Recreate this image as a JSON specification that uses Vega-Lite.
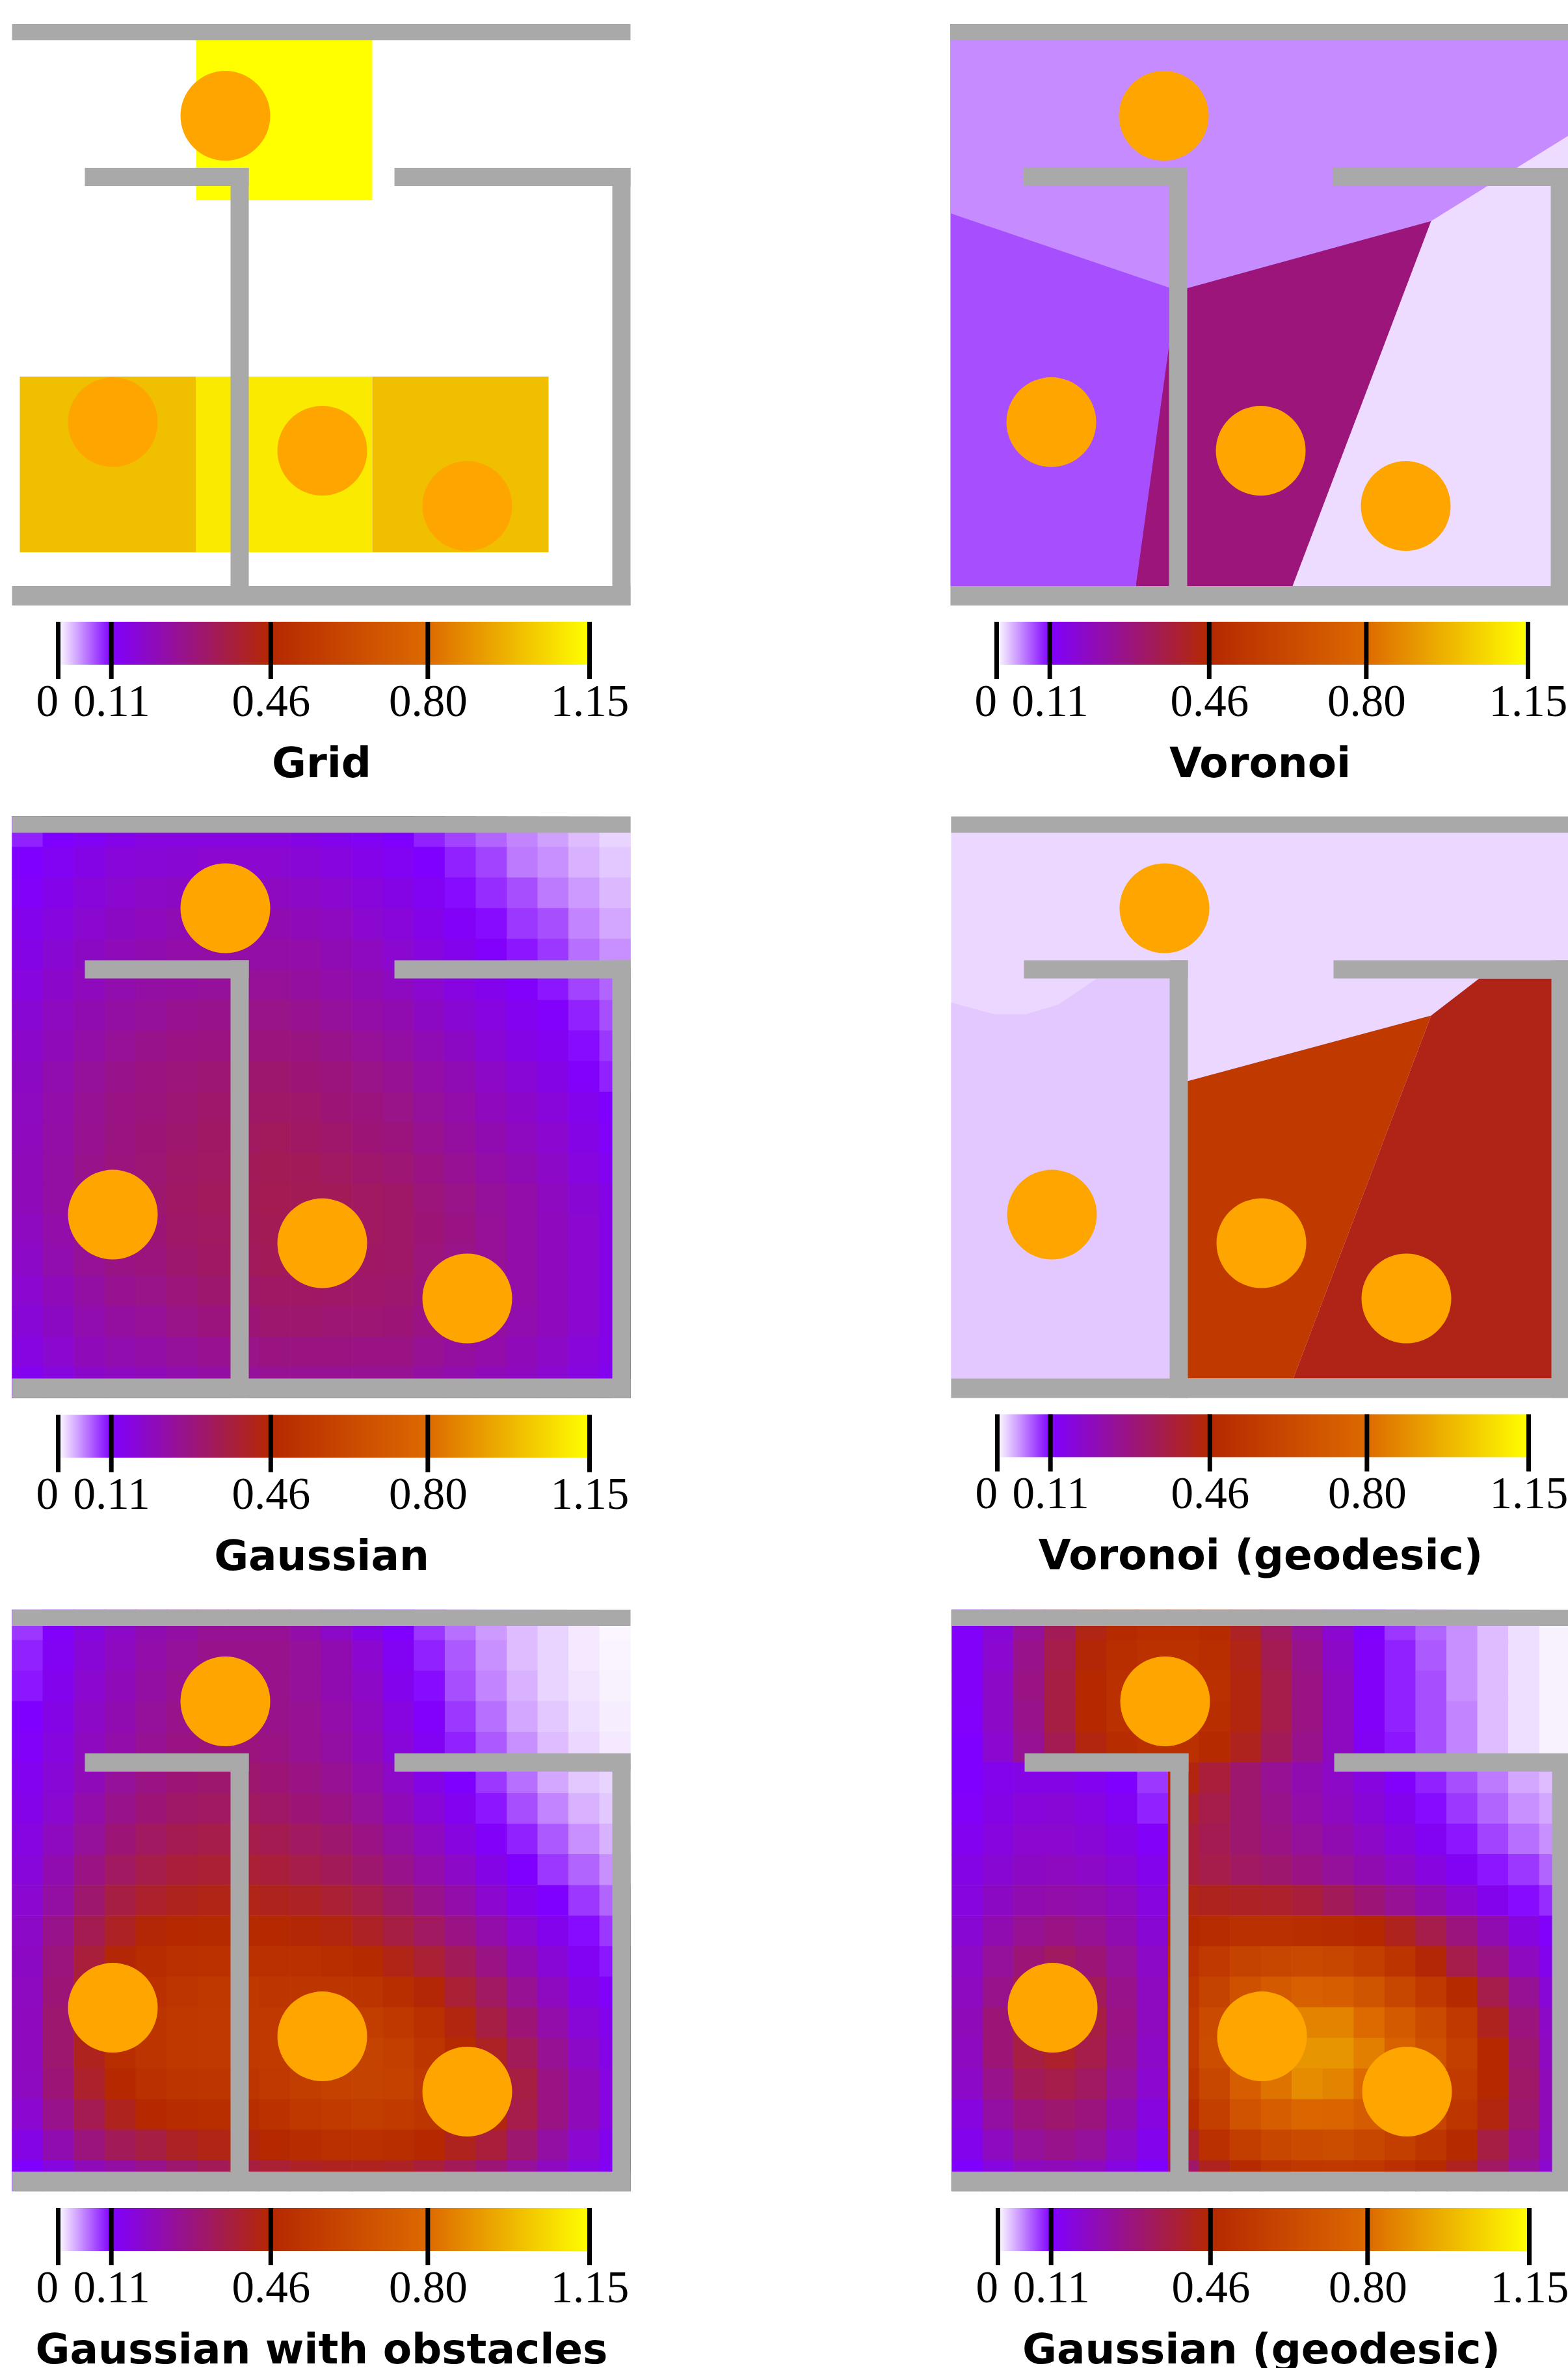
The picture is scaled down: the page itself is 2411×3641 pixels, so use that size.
{"$schema":"https://vega.github.io/schema/vega-lite/v6.json","background":"white","padding":{"left":17.5,"top":37,"right":0,"bottom":0},"config":{"view":{"stroke":null},"axis":{"grid":false,"ticks":false,"domain":false,"labelFont":"Liberation Serif","labelFontSize":69,"labelColor":"black","labelPadding":1,"labelOverlap":false,"labelFlush":false,"labelBound":false,"titleFont":"DejaVu Sans","titleFontWeight":"bold","titleFontSize":64.5,"titleColor":"black","titlePadding":29}},
"datasets":{
"walls":[{"x":-0.5,"x2":19.5,"y":-0.5,"y2":0.031},{"x":1.855,"x2":7.155,"y":4.197,"y2":4.792},{"x":6.566,"x2":7.155,"y":4.197,"y2":18.5},{"x":11.866,"x2":19.5,"y":4.197,"y2":4.792},{"x":18.911,"x2":19.5,"y":4.197,"y2":18.5},{"x":-0.5,"x2":19.5,"y":17.864,"y2":18.5}],
"people":[{"x":6.398,"y":2.497},{"x":2.76,"y":12.508},{"x":9.532,"y":13.443},{"x":14.221,"y":15.249}],
"ticks":[{"t":0},{"t":0.115},{"t":0.46},{"t":0.8},{"t":1.15}],
"bar":[{"a":0,"b":1.15,"c":0,"d":0.75}],
"grid":[{"x":5.452,"x2":11.15,"y":-0.5,"y2":5.26,"v":1.15},{"x":-0.248,"x2":5.452,"y":11.02,"y2":16.76,"v":1.0},{"x":5.452,"x2":11.15,"y":11.02,"y2":16.76,"v":1.1},{"x":11.15,"x2":16.85,"y":11.02,"y2":16.76,"v":1.0}],
"voronoi":[{"cell":"r","x":-0.5,"y":-0.5,"y2":18.5,"v":0.016},{"cell":"r","x":19.5,"y":-0.5,"y2":18.5,"v":0.016},{"cell":"m","x":5.494,"y":-0.5,"y2":17.864,"v":0.295},{"cell":"m","x":10.562,"y":-0.5,"y2":17.864,"v":0.295},{"cell":"m","x":15.041,"y":-0.5,"y2":5.94,"v":0.295},{"cell":"l","x":-0.5,"y":-0.5,"y2":17.864,"v":0.08},{"cell":"l","x":5.494,"y":-0.5,"y2":17.864,"v":0.08},{"cell":"l","x":6.566,"y":-0.5,"y2":10.021,"v":0.08},{"cell":"t","x":-0.5,"y":-0.5,"y2":5.685,"v":0.052},{"cell":"t","x":6.861,"y":-0.5,"y2":8.214,"v":0.052},{"cell":"t","x":15.041,"y":-0.5,"y2":5.94,"v":0.052},{"cell":"t","x":19.5,"y":-0.5,"y2":3.134,"v":0.052}],
"geodesic":[{"cell":"t","x":-0.5,"y":-0.5,"y2":18.5,"v":0.018},{"cell":"t","x":19.5,"y":-0.5,"y2":18.5,"v":0.018},{"cell":"r","x":10.562,"y":17.864,"y2":17.864,"v":0.4275},{"cell":"r","x":15.021,"y":6.004,"y2":17.864,"v":0.4275},{"cell":"r","x":16.577,"y":4.792,"y2":17.864,"v":0.4275},{"cell":"r","x":19.5,"y":4.792,"y2":17.864,"v":0.4275},{"cell":"m","x":7.134,"y":8.15,"y2":17.864,"v":0.553},{"cell":"m","x":10.562,"y":7.215,"y2":17.864,"v":0.553},{"cell":"m","x":15.021,"y":6.004,"y2":6.004,"v":0.553},{"cell":"l","x":-0.5,"y":5.579,"y2":17.864,"v":0.025},{"cell":"l","x":0.888,"y":5.961,"y2":17.864,"v":0.025},{"cell":"l","x":1.918,"y":5.961,"y2":17.864,"v":0.025},{"cell":"l","x":2.97,"y":5.642,"y2":17.864,"v":0.025},{"cell":"l","x":4.211,"y":4.792,"y2":17.864,"v":0.025},{"cell":"l","x":6.566,"y":4.792,"y2":17.864,"v":0.025}],
"g2":[
{"x":0,"y":0,"v":0.1},{"x":1,"y":0,"v":0.115},{"x":2,"y":0,"v":0.13},{"x":3,"y":0,"v":0.145},{"x":4,"y":0,"v":0.155},{"x":5,"y":0,"v":0.16},{"x":6,"y":0,"v":0.16},{"x":7,"y":0,"v":0.16},{"x":8,"y":0,"v":0.16},{"x":9,"y":0,"v":0.15},{"x":10,"y":0,"v":0.14},{"x":11,"y":0,"v":0.13},{"x":12,"y":0,"v":0.115},{"x":13,"y":0,"v":0.1},{"x":14,"y":0,"v":0.085},{"x":15,"y":0,"v":0.07},{"x":16,"y":0,"v":0.055},{"x":17,"y":0,"v":0.043},{"x":18,"y":0,"v":0.03},{"x":19,"y":0,"v":0.02},
{"x":0,"y":1,"v":0.115},{"x":1,"y":1,"v":0.13},{"x":2,"y":1,"v":0.15},{"x":3,"y":1,"v":0.165},{"x":4,"y":1,"v":0.17},{"x":5,"y":1,"v":0.175},{"x":6,"y":1,"v":0.18},{"x":7,"y":1,"v":0.18},{"x":8,"y":1,"v":0.18},{"x":9,"y":1,"v":0.17},{"x":10,"y":1,"v":0.16},{"x":11,"y":1,"v":0.145},{"x":12,"y":1,"v":0.13},{"x":13,"y":1,"v":0.115},{"x":14,"y":1,"v":0.1},{"x":15,"y":1,"v":0.085},{"x":16,"y":1,"v":0.06},{"x":17,"y":1,"v":0.05},{"x":18,"y":1,"v":0.035},{"x":19,"y":1,"v":0.025},
{"x":0,"y":2,"v":0.125},{"x":1,"y":2,"v":0.145},{"x":2,"y":2,"v":0.165},{"x":3,"y":2,"v":0.18},{"x":4,"y":2,"v":0.19},{"x":5,"y":2,"v":0.195},{"x":6,"y":2,"v":0.2},{"x":7,"y":2,"v":0.2},{"x":8,"y":2,"v":0.2},{"x":9,"y":2,"v":0.19},{"x":10,"y":2,"v":0.18},{"x":11,"y":2,"v":0.165},{"x":12,"y":2,"v":0.15},{"x":13,"y":2,"v":0.13},{"x":14,"y":2,"v":0.11},{"x":15,"y":2,"v":0.095},{"x":16,"y":2,"v":0.08},{"x":17,"y":2,"v":0.06},{"x":18,"y":2,"v":0.045},{"x":19,"y":2,"v":0.032},
{"x":0,"y":3,"v":0.14},{"x":1,"y":3,"v":0.16},{"x":2,"y":3,"v":0.18},{"x":3,"y":3,"v":0.195},{"x":4,"y":3,"v":0.205},{"x":5,"y":3,"v":0.215},{"x":6,"y":3,"v":0.22},{"x":7,"y":3,"v":0.22},{"x":8,"y":3,"v":0.22},{"x":9,"y":3,"v":0.21},{"x":10,"y":3,"v":0.2},{"x":11,"y":3,"v":0.18},{"x":12,"y":3,"v":0.165},{"x":13,"y":3,"v":0.145},{"x":14,"y":3,"v":0.125},{"x":15,"y":3,"v":0.11},{"x":16,"y":3,"v":0.09},{"x":17,"y":3,"v":0.08},{"x":18,"y":3,"v":0.055},{"x":19,"y":3,"v":0.04},
{"x":0,"y":4,"v":0.15},{"x":1,"y":4,"v":0.175},{"x":2,"y":4,"v":0.195},{"x":3,"y":4,"v":0.21},{"x":4,"y":4,"v":0.22},{"x":5,"y":4,"v":0.23},{"x":6,"y":4,"v":0.235},{"x":7,"y":4,"v":0.235},{"x":8,"y":4,"v":0.235},{"x":9,"y":4,"v":0.23},{"x":10,"y":4,"v":0.215},{"x":11,"y":4,"v":0.2},{"x":12,"y":4,"v":0.18},{"x":13,"y":4,"v":0.16},{"x":14,"y":4,"v":0.14},{"x":15,"y":4,"v":0.12},{"x":16,"y":4,"v":0.105},{"x":17,"y":4,"v":0.09},{"x":18,"y":4,"v":0.065},{"x":19,"y":4,"v":0.05},
{"x":0,"y":5,"v":0.16},{"x":1,"y":5,"v":0.185},{"x":2,"y":5,"v":0.205},{"x":3,"y":5,"v":0.225},{"x":4,"y":5,"v":0.24},{"x":5,"y":5,"v":0.245},{"x":6,"y":5,"v":0.25},{"x":7,"y":5,"v":0.255},{"x":8,"y":5,"v":0.255},{"x":9,"y":5,"v":0.245},{"x":10,"y":5,"v":0.23},{"x":11,"y":5,"v":0.215},{"x":12,"y":5,"v":0.2},{"x":13,"y":5,"v":0.18},{"x":14,"y":5,"v":0.155},{"x":15,"y":5,"v":0.14},{"x":16,"y":5,"v":0.12},{"x":17,"y":5,"v":0.105},{"x":18,"y":5,"v":0.085},{"x":19,"y":5,"v":0.07},
{"x":0,"y":6,"v":0.175},{"x":1,"y":6,"v":0.2},{"x":2,"y":6,"v":0.22},{"x":3,"y":6,"v":0.24},{"x":4,"y":6,"v":0.25},{"x":5,"y":6,"v":0.265},{"x":6,"y":6,"v":0.27},{"x":7,"y":6,"v":0.275},{"x":8,"y":6,"v":0.275},{"x":9,"y":6,"v":0.265},{"x":10,"y":6,"v":0.25},{"x":11,"y":6,"v":0.235},{"x":12,"y":6,"v":0.22},{"x":13,"y":6,"v":0.195},{"x":14,"y":6,"v":0.175},{"x":15,"y":6,"v":0.155},{"x":16,"y":6,"v":0.135},{"x":17,"y":6,"v":0.12},{"x":18,"y":6,"v":0.1},{"x":19,"y":6,"v":0.08},
{"x":0,"y":7,"v":0.185},{"x":1,"y":7,"v":0.21},{"x":2,"y":7,"v":0.235},{"x":3,"y":7,"v":0.255},{"x":4,"y":7,"v":0.27},{"x":5,"y":7,"v":0.28},{"x":6,"y":7,"v":0.285},{"x":7,"y":7,"v":0.29},{"x":8,"y":7,"v":0.29},{"x":9,"y":7,"v":0.285},{"x":10,"y":7,"v":0.27},{"x":11,"y":7,"v":0.255},{"x":12,"y":7,"v":0.24},{"x":13,"y":7,"v":0.215},{"x":14,"y":7,"v":0.195},{"x":15,"y":7,"v":0.17},{"x":16,"y":7,"v":0.15},{"x":17,"y":7,"v":0.135},{"x":18,"y":7,"v":0.11},{"x":19,"y":7,"v":0.09},
{"x":0,"y":8,"v":0.195},{"x":1,"y":8,"v":0.225},{"x":2,"y":8,"v":0.25},{"x":3,"y":8,"v":0.27},{"x":4,"y":8,"v":0.285},{"x":5,"y":8,"v":0.295},{"x":6,"y":8,"v":0.305},{"x":7,"y":8,"v":0.31},{"x":8,"y":8,"v":0.31},{"x":9,"y":8,"v":0.3},{"x":10,"y":8,"v":0.29},{"x":11,"y":8,"v":0.275},{"x":12,"y":8,"v":0.26},{"x":13,"y":8,"v":0.235},{"x":14,"y":8,"v":0.215},{"x":15,"y":8,"v":0.19},{"x":16,"y":8,"v":0.17},{"x":17,"y":8,"v":0.15},{"x":18,"y":8,"v":0.12},{"x":19,"y":8,"v":0.1},
{"x":0,"y":9,"v":0.2},{"x":1,"y":9,"v":0.23},{"x":2,"y":9,"v":0.26},{"x":3,"y":9,"v":0.28},{"x":4,"y":9,"v":0.29},{"x":5,"y":9,"v":0.305},{"x":6,"y":9,"v":0.315},{"x":7,"y":9,"v":0.32},{"x":8,"y":9,"v":0.32},{"x":9,"y":9,"v":0.315},{"x":10,"y":9,"v":0.3},{"x":11,"y":9,"v":0.29},{"x":12,"y":9,"v":0.275},{"x":13,"y":9,"v":0.25},{"x":14,"y":9,"v":0.23},{"x":15,"y":9,"v":0.205},{"x":16,"y":9,"v":0.185},{"x":17,"y":9,"v":0.165},{"x":18,"y":9,"v":0.14},{"x":19,"y":9,"v":0.115},
{"x":0,"y":10,"v":0.205},{"x":1,"y":10,"v":0.235},{"x":2,"y":10,"v":0.265},{"x":3,"y":10,"v":0.285},{"x":4,"y":10,"v":0.3},{"x":5,"y":10,"v":0.31},{"x":6,"y":10,"v":0.325},{"x":7,"y":10,"v":0.33},{"x":8,"y":10,"v":0.335},{"x":9,"y":10,"v":0.325},{"x":10,"y":10,"v":0.315},{"x":11,"y":10,"v":0.3},{"x":12,"y":10,"v":0.29},{"x":13,"y":10,"v":0.265},{"x":14,"y":10,"v":0.245},{"x":15,"y":10,"v":0.22},{"x":16,"y":10,"v":0.2},{"x":17,"y":10,"v":0.18},{"x":18,"y":10,"v":0.15},{"x":19,"y":10,"v":0.125},
{"x":0,"y":11,"v":0.21},{"x":1,"y":11,"v":0.24},{"x":2,"y":11,"v":0.27},{"x":3,"y":11,"v":0.29},{"x":4,"y":11,"v":0.305},{"x":5,"y":11,"v":0.32},{"x":6,"y":11,"v":0.33},{"x":7,"y":11,"v":0.34},{"x":8,"y":11,"v":0.345},{"x":9,"y":11,"v":0.34},{"x":10,"y":11,"v":0.33},{"x":11,"y":11,"v":0.315},{"x":12,"y":11,"v":0.305},{"x":13,"y":11,"v":0.28},{"x":14,"y":11,"v":0.26},{"x":15,"y":11,"v":0.235},{"x":16,"y":11,"v":0.215},{"x":17,"y":11,"v":0.19},{"x":18,"y":11,"v":0.16},{"x":19,"y":11,"v":0.135},
{"x":0,"y":12,"v":0.21},{"x":1,"y":12,"v":0.24},{"x":2,"y":12,"v":0.27},{"x":3,"y":12,"v":0.295},{"x":4,"y":12,"v":0.31},{"x":5,"y":12,"v":0.325},{"x":6,"y":12,"v":0.335},{"x":7,"y":12,"v":0.345},{"x":8,"y":12,"v":0.35},{"x":9,"y":12,"v":0.345},{"x":10,"y":12,"v":0.34},{"x":11,"y":12,"v":0.33},{"x":12,"y":12,"v":0.32},{"x":13,"y":12,"v":0.295},{"x":14,"y":12,"v":0.275},{"x":15,"y":12,"v":0.25},{"x":16,"y":12,"v":0.23},{"x":17,"y":12,"v":0.2},{"x":18,"y":12,"v":0.175},{"x":19,"y":12,"v":0.15},
{"x":0,"y":13,"v":0.2},{"x":1,"y":13,"v":0.23},{"x":2,"y":13,"v":0.265},{"x":3,"y":13,"v":0.29},{"x":4,"y":13,"v":0.3},{"x":5,"y":13,"v":0.32},{"x":6,"y":13,"v":0.33},{"x":7,"y":13,"v":0.34},{"x":8,"y":13,"v":0.345},{"x":9,"y":13,"v":0.345},{"x":10,"y":13,"v":0.335},{"x":11,"y":13,"v":0.33},{"x":12,"y":13,"v":0.32},{"x":13,"y":13,"v":0.3},{"x":14,"y":13,"v":0.28},{"x":15,"y":13,"v":0.255},{"x":16,"y":13,"v":0.23},{"x":17,"y":13,"v":0.205},{"x":18,"y":13,"v":0.18},{"x":19,"y":13,"v":0.15},
{"x":0,"y":14,"v":0.19},{"x":1,"y":14,"v":0.225},{"x":2,"y":14,"v":0.255},{"x":3,"y":14,"v":0.28},{"x":4,"y":14,"v":0.29},{"x":5,"y":14,"v":0.31},{"x":6,"y":14,"v":0.325},{"x":7,"y":14,"v":0.335},{"x":8,"y":14,"v":0.34},{"x":9,"y":14,"v":0.34},{"x":10,"y":14,"v":0.33},{"x":11,"y":14,"v":0.325},{"x":12,"y":14,"v":0.32},{"x":13,"y":14,"v":0.295},{"x":14,"y":14,"v":0.275},{"x":15,"y":14,"v":0.255},{"x":16,"y":14,"v":0.23},{"x":17,"y":14,"v":0.205},{"x":18,"y":14,"v":0.18},{"x":19,"y":14,"v":0.15},
{"x":0,"y":15,"v":0.18},{"x":1,"y":15,"v":0.21},{"x":2,"y":15,"v":0.24},{"x":3,"y":15,"v":0.265},{"x":4,"y":15,"v":0.275},{"x":5,"y":15,"v":0.295},{"x":6,"y":15,"v":0.31},{"x":7,"y":15,"v":0.32},{"x":8,"y":15,"v":0.325},{"x":9,"y":15,"v":0.325},{"x":10,"y":15,"v":0.32},{"x":11,"y":15,"v":0.315},{"x":12,"y":15,"v":0.31},{"x":13,"y":15,"v":0.29},{"x":14,"y":15,"v":0.27},{"x":15,"y":15,"v":0.25},{"x":16,"y":15,"v":0.23},{"x":17,"y":15,"v":0.205},{"x":18,"y":15,"v":0.18},{"x":19,"y":15,"v":0.15},
{"x":0,"y":16,"v":0.17},{"x":1,"y":16,"v":0.195},{"x":2,"y":16,"v":0.225},{"x":3,"y":16,"v":0.245},{"x":4,"y":16,"v":0.255},{"x":5,"y":16,"v":0.275},{"x":6,"y":16,"v":0.29},{"x":7,"y":16,"v":0.3},{"x":8,"y":16,"v":0.31},{"x":9,"y":16,"v":0.31},{"x":10,"y":16,"v":0.305},{"x":11,"y":16,"v":0.305},{"x":12,"y":16,"v":0.3},{"x":13,"y":16,"v":0.28},{"x":14,"y":16,"v":0.26},{"x":15,"y":16,"v":0.245},{"x":16,"y":16,"v":0.225},{"x":17,"y":16,"v":0.205},{"x":18,"y":16,"v":0.18},{"x":19,"y":16,"v":0.15},
{"x":0,"y":17,"v":0.155},{"x":1,"y":17,"v":0.18},{"x":2,"y":17,"v":0.21},{"x":3,"y":17,"v":0.225},{"x":4,"y":17,"v":0.235},{"x":5,"y":17,"v":0.25},{"x":6,"y":17,"v":0.265},{"x":7,"y":17,"v":0.275},{"x":8,"y":17,"v":0.285},{"x":9,"y":17,"v":0.285},{"x":10,"y":17,"v":0.285},{"x":11,"y":17,"v":0.28},{"x":12,"y":17,"v":0.28},{"x":13,"y":17,"v":0.26},{"x":14,"y":17,"v":0.245},{"x":15,"y":17,"v":0.23},{"x":16,"y":17,"v":0.21},{"x":17,"y":17,"v":0.19},{"x":18,"y":17,"v":0.165},{"x":19,"y":17,"v":0.145},
{"x":0,"y":18,"v":0.135},{"x":1,"y":18,"v":0.16},{"x":2,"y":18,"v":0.185},{"x":3,"y":18,"v":0.2},{"x":4,"y":18,"v":0.21},{"x":5,"y":18,"v":0.225},{"x":6,"y":18,"v":0.24},{"x":7,"y":18,"v":0.25},{"x":8,"y":18,"v":0.26},{"x":9,"y":18,"v":0.26},{"x":10,"y":18,"v":0.26},{"x":11,"y":18,"v":0.26},{"x":12,"y":18,"v":0.26},{"x":13,"y":18,"v":0.24},{"x":14,"y":18,"v":0.225},{"x":15,"y":18,"v":0.21},{"x":16,"y":18,"v":0.2},{"x":17,"y":18,"v":0.18},{"x":18,"y":18,"v":0.155},{"x":19,"y":18,"v":0.135}],
"g3":[
{"x":0,"y":0,"v":0.09},{"x":1,"y":0,"v":0.12},{"x":2,"y":0,"v":0.16},{"x":3,"y":0,"v":0.19},{"x":4,"y":0,"v":0.22},{"x":5,"y":0,"v":0.24},{"x":6,"y":0,"v":0.26},{"x":7,"y":0,"v":0.26},{"x":8,"y":0,"v":0.26},{"x":9,"y":0,"v":0.23},{"x":10,"y":0,"v":0.19},{"x":11,"y":0,"v":0.15},{"x":12,"y":0,"v":0.115},{"x":13,"y":0,"v":0.09},{"x":14,"y":0,"v":0.065},{"x":15,"y":0,"v":0.045},{"x":16,"y":0,"v":0.03},{"x":17,"y":0,"v":0.02},{"x":18,"y":0,"v":0.01},{"x":19,"y":0,"v":0.004},
{"x":0,"y":1,"v":0.1},{"x":1,"y":1,"v":0.13},{"x":2,"y":1,"v":0.17},{"x":3,"y":1,"v":0.2},{"x":4,"y":1,"v":0.23},{"x":5,"y":1,"v":0.25},{"x":6,"y":1,"v":0.27},{"x":7,"y":1,"v":0.27},{"x":8,"y":1,"v":0.27},{"x":9,"y":1,"v":0.25},{"x":10,"y":1,"v":0.22},{"x":11,"y":1,"v":0.18},{"x":12,"y":1,"v":0.13},{"x":13,"y":1,"v":0.1},{"x":14,"y":1,"v":0.075},{"x":15,"y":1,"v":0.05},{"x":16,"y":1,"v":0.03},{"x":17,"y":1,"v":0.02},{"x":18,"y":1,"v":0.01},{"x":19,"y":1,"v":0.005},
{"x":0,"y":2,"v":0.105},{"x":1,"y":2,"v":0.14},{"x":2,"y":2,"v":0.18},{"x":3,"y":2,"v":0.21},{"x":4,"y":2,"v":0.24},{"x":5,"y":2,"v":0.26},{"x":6,"y":2,"v":0.27},{"x":7,"y":2,"v":0.28},{"x":8,"y":2,"v":0.27},{"x":9,"y":2,"v":0.25},{"x":10,"y":2,"v":0.22},{"x":11,"y":2,"v":0.19},{"x":12,"y":2,"v":0.14},{"x":13,"y":2,"v":0.11},{"x":14,"y":2,"v":0.08},{"x":15,"y":2,"v":0.055},{"x":16,"y":2,"v":0.035},{"x":17,"y":2,"v":0.02},{"x":18,"y":2,"v":0.012},{"x":19,"y":2,"v":0.006},
{"x":0,"y":3,"v":0.115},{"x":1,"y":3,"v":0.15},{"x":2,"y":3,"v":0.19},{"x":3,"y":3,"v":0.22},{"x":4,"y":3,"v":0.25},{"x":5,"y":3,"v":0.27},{"x":6,"y":3,"v":0.28},{"x":7,"y":3,"v":0.28},{"x":8,"y":3,"v":0.27},{"x":9,"y":3,"v":0.26},{"x":10,"y":3,"v":0.23},{"x":11,"y":3,"v":0.2},{"x":12,"y":3,"v":0.155},{"x":13,"y":3,"v":0.12},{"x":14,"y":3,"v":0.09},{"x":15,"y":3,"v":0.065},{"x":16,"y":3,"v":0.04},{"x":17,"y":3,"v":0.025},{"x":18,"y":3,"v":0.015},{"x":19,"y":3,"v":0.008},
{"x":0,"y":4,"v":0.125},{"x":1,"y":4,"v":0.16},{"x":2,"y":4,"v":0.2},{"x":3,"y":4,"v":0.23},{"x":4,"y":4,"v":0.26},{"x":5,"y":4,"v":0.28},{"x":6,"y":4,"v":0.29},{"x":7,"y":4,"v":0.29},{"x":8,"y":4,"v":0.28},{"x":9,"y":4,"v":0.26},{"x":10,"y":4,"v":0.24},{"x":11,"y":4,"v":0.21},{"x":12,"y":4,"v":0.165},{"x":13,"y":4,"v":0.13},{"x":14,"y":4,"v":0.1},{"x":15,"y":4,"v":0.075},{"x":16,"y":4,"v":0.05},{"x":17,"y":4,"v":0.03},{"x":18,"y":4,"v":0.018},{"x":19,"y":4,"v":0.01},
{"x":0,"y":5,"v":0.135},{"x":1,"y":5,"v":0.17},{"x":2,"y":5,"v":0.21},{"x":3,"y":5,"v":0.25},{"x":4,"y":5,"v":0.28},{"x":5,"y":5,"v":0.3},{"x":6,"y":5,"v":0.31},{"x":7,"y":5,"v":0.31},{"x":8,"y":5,"v":0.3},{"x":9,"y":5,"v":0.28},{"x":10,"y":5,"v":0.26},{"x":11,"y":5,"v":0.23},{"x":12,"y":5,"v":0.19},{"x":13,"y":5,"v":0.15},{"x":14,"y":5,"v":0.115},{"x":15,"y":5,"v":0.09},{"x":16,"y":5,"v":0.065},{"x":17,"y":5,"v":0.04},{"x":18,"y":5,"v":0.025},{"x":19,"y":5,"v":0.02},
{"x":0,"y":6,"v":0.145},{"x":1,"y":6,"v":0.18},{"x":2,"y":6,"v":0.23},{"x":3,"y":6,"v":0.27},{"x":4,"y":6,"v":0.3},{"x":5,"y":6,"v":0.32},{"x":6,"y":6,"v":0.33},{"x":7,"y":6,"v":0.33},{"x":8,"y":6,"v":0.32},{"x":9,"y":6,"v":0.3},{"x":10,"y":6,"v":0.28},{"x":11,"y":6,"v":0.25},{"x":12,"y":6,"v":0.21},{"x":13,"y":6,"v":0.17},{"x":14,"y":6,"v":0.135},{"x":15,"y":6,"v":0.105},{"x":16,"y":6,"v":0.08},{"x":17,"y":6,"v":0.055},{"x":18,"y":6,"v":0.035},{"x":19,"y":6,"v":0.025},
{"x":0,"y":7,"v":0.155},{"x":1,"y":7,"v":0.2},{"x":2,"y":7,"v":0.25},{"x":3,"y":7,"v":0.3},{"x":4,"y":7,"v":0.33},{"x":5,"y":7,"v":0.35},{"x":6,"y":7,"v":0.36},{"x":7,"y":7,"v":0.36},{"x":8,"y":7,"v":0.35},{"x":9,"y":7,"v":0.33},{"x":10,"y":7,"v":0.31},{"x":11,"y":7,"v":0.28},{"x":12,"y":7,"v":0.24},{"x":13,"y":7,"v":0.2},{"x":14,"y":7,"v":0.16},{"x":15,"y":7,"v":0.125},{"x":16,"y":7,"v":0.1},{"x":17,"y":7,"v":0.075},{"x":18,"y":7,"v":0.05},{"x":19,"y":7,"v":0.035},
{"x":0,"y":8,"v":0.165},{"x":1,"y":8,"v":0.22},{"x":2,"y":8,"v":0.28},{"x":3,"y":8,"v":0.33},{"x":4,"y":8,"v":0.36},{"x":5,"y":8,"v":0.38},{"x":6,"y":8,"v":0.39},{"x":7,"y":8,"v":0.39},{"x":8,"y":8,"v":0.38},{"x":9,"y":8,"v":0.36},{"x":10,"y":8,"v":0.34},{"x":11,"y":8,"v":0.31},{"x":12,"y":8,"v":0.27},{"x":13,"y":8,"v":0.23},{"x":14,"y":8,"v":0.19},{"x":15,"y":8,"v":0.15},{"x":16,"y":8,"v":0.115},{"x":17,"y":8,"v":0.09},{"x":18,"y":8,"v":0.07},{"x":19,"y":8,"v":0.05},
{"x":0,"y":9,"v":0.18},{"x":1,"y":9,"v":0.24},{"x":2,"y":9,"v":0.31},{"x":3,"y":9,"v":0.37},{"x":4,"y":9,"v":0.4},{"x":5,"y":9,"v":0.42},{"x":6,"y":9,"v":0.43},{"x":7,"y":9,"v":0.43},{"x":8,"y":9,"v":0.42},{"x":9,"y":9,"v":0.41},{"x":10,"y":9,"v":0.39},{"x":11,"y":9,"v":0.36},{"x":12,"y":9,"v":0.32},{"x":13,"y":9,"v":0.27},{"x":14,"y":9,"v":0.23},{"x":15,"y":9,"v":0.18},{"x":16,"y":9,"v":0.14},{"x":17,"y":9,"v":0.115},{"x":18,"y":9,"v":0.09},{"x":19,"y":9,"v":0.07},
{"x":0,"y":10,"v":0.19},{"x":1,"y":10,"v":0.27},{"x":2,"y":10,"v":0.35},{"x":3,"y":10,"v":0.41},{"x":4,"y":10,"v":0.45},{"x":5,"y":10,"v":0.46},{"x":6,"y":10,"v":0.47},{"x":7,"y":10,"v":0.47},{"x":8,"y":10,"v":0.46},{"x":9,"y":10,"v":0.45},{"x":10,"y":10,"v":0.44},{"x":11,"y":10,"v":0.41},{"x":12,"y":10,"v":0.37},{"x":13,"y":10,"v":0.33},{"x":14,"y":10,"v":0.28},{"x":15,"y":10,"v":0.23},{"x":16,"y":10,"v":0.18},{"x":17,"y":10,"v":0.14},{"x":18,"y":10,"v":0.11},{"x":19,"y":10,"v":0.09},
{"x":0,"y":11,"v":0.195},{"x":1,"y":11,"v":0.29},{"x":2,"y":11,"v":0.38},{"x":3,"y":11,"v":0.45},{"x":4,"y":11,"v":0.48},{"x":5,"y":11,"v":0.5},{"x":6,"y":11,"v":0.51},{"x":7,"y":11,"v":0.51},{"x":8,"y":11,"v":0.5},{"x":9,"y":11,"v":0.5},{"x":10,"y":11,"v":0.49},{"x":11,"y":11,"v":0.47},{"x":12,"y":11,"v":0.43},{"x":13,"y":11,"v":0.39},{"x":14,"y":11,"v":0.34},{"x":15,"y":11,"v":0.28},{"x":16,"y":11,"v":0.22},{"x":17,"y":11,"v":0.17},{"x":18,"y":11,"v":0.13},{"x":19,"y":11,"v":0.105},
{"x":0,"y":12,"v":0.2},{"x":1,"y":12,"v":0.3},{"x":2,"y":12,"v":0.4},{"x":3,"y":12,"v":0.47},{"x":4,"y":12,"v":0.5},{"x":5,"y":12,"v":0.53},{"x":6,"y":12,"v":0.54},{"x":7,"y":12,"v":0.54},{"x":8,"y":12,"v":0.53},{"x":9,"y":12,"v":0.53},{"x":10,"y":12,"v":0.53},{"x":11,"y":12,"v":0.52},{"x":12,"y":12,"v":0.49},{"x":13,"y":12,"v":0.45},{"x":14,"y":12,"v":0.39},{"x":15,"y":12,"v":0.33},{"x":16,"y":12,"v":0.26},{"x":17,"y":12,"v":0.2},{"x":18,"y":12,"v":0.15},{"x":19,"y":12,"v":0.125},
{"x":0,"y":13,"v":0.205},{"x":1,"y":13,"v":0.31},{"x":2,"y":13,"v":0.42},{"x":3,"y":13,"v":0.49},{"x":4,"y":13,"v":0.52},{"x":5,"y":13,"v":0.54},{"x":6,"y":13,"v":0.55},{"x":7,"y":13,"v":0.55},{"x":8,"y":13,"v":0.55},{"x":9,"y":13,"v":0.56},{"x":10,"y":13,"v":0.57},{"x":11,"y":13,"v":0.57},{"x":12,"y":13,"v":0.54},{"x":13,"y":13,"v":0.5},{"x":14,"y":13,"v":0.44},{"x":15,"y":13,"v":0.37},{"x":16,"y":13,"v":0.3},{"x":17,"y":13,"v":0.23},{"x":18,"y":13,"v":0.17},{"x":19,"y":13,"v":0.14},
{"x":0,"y":14,"v":0.205},{"x":1,"y":14,"v":0.31},{"x":2,"y":14,"v":0.42},{"x":3,"y":14,"v":0.49},{"x":4,"y":14,"v":0.52},{"x":5,"y":14,"v":0.54},{"x":6,"y":14,"v":0.55},{"x":7,"y":14,"v":0.55},{"x":8,"y":14,"v":0.56},{"x":9,"y":14,"v":0.58},{"x":10,"y":14,"v":0.59},{"x":11,"y":14,"v":0.6},{"x":12,"y":14,"v":0.58},{"x":13,"y":14,"v":0.53},{"x":14,"y":14,"v":0.47},{"x":15,"y":14,"v":0.41},{"x":16,"y":14,"v":0.34},{"x":17,"y":14,"v":0.26},{"x":18,"y":14,"v":0.19},{"x":19,"y":14,"v":0.15},
{"x":0,"y":15,"v":0.2},{"x":1,"y":15,"v":0.3},{"x":2,"y":15,"v":0.4},{"x":3,"y":15,"v":0.46},{"x":4,"y":15,"v":0.5},{"x":5,"y":15,"v":0.52},{"x":6,"y":15,"v":0.53},{"x":7,"y":15,"v":0.53},{"x":8,"y":15,"v":0.55},{"x":9,"y":15,"v":0.57},{"x":10,"y":15,"v":0.59},{"x":11,"y":15,"v":0.6},{"x":12,"y":15,"v":0.59},{"x":13,"y":15,"v":0.55},{"x":14,"y":15,"v":0.5},{"x":15,"y":15,"v":0.45},{"x":16,"y":15,"v":0.37},{"x":17,"y":15,"v":0.28},{"x":18,"y":15,"v":0.21},{"x":19,"y":15,"v":0.155},
{"x":0,"y":16,"v":0.18},{"x":1,"y":16,"v":0.27},{"x":2,"y":16,"v":0.35},{"x":3,"y":16,"v":0.42},{"x":4,"y":16,"v":0.46},{"x":5,"y":16,"v":0.48},{"x":6,"y":16,"v":0.49},{"x":7,"y":16,"v":0.49},{"x":8,"y":16,"v":0.51},{"x":9,"y":16,"v":0.54},{"x":10,"y":16,"v":0.56},{"x":11,"y":16,"v":0.57},{"x":12,"y":16,"v":0.56},{"x":13,"y":16,"v":0.53},{"x":14,"y":16,"v":0.49},{"x":15,"y":16,"v":0.44},{"x":16,"y":16,"v":0.36},{"x":17,"y":16,"v":0.28},{"x":18,"y":16,"v":0.21},{"x":19,"y":16,"v":0.155},
{"x":0,"y":17,"v":0.15},{"x":1,"y":17,"v":0.22},{"x":2,"y":17,"v":0.29},{"x":3,"y":17,"v":0.34},{"x":4,"y":17,"v":0.37},{"x":5,"y":17,"v":0.41},{"x":6,"y":17,"v":0.43},{"x":7,"y":17,"v":0.44},{"x":8,"y":17,"v":0.46},{"x":9,"y":17,"v":0.48},{"x":10,"y":17,"v":0.5},{"x":11,"y":17,"v":0.5},{"x":12,"y":17,"v":0.49},{"x":13,"y":17,"v":0.46},{"x":14,"y":17,"v":0.42},{"x":15,"y":17,"v":0.38},{"x":16,"y":17,"v":0.31},{"x":17,"y":17,"v":0.24},{"x":18,"y":17,"v":0.18},{"x":19,"y":17,"v":0.14},
{"x":0,"y":18,"v":0.115},{"x":1,"y":18,"v":0.16},{"x":2,"y":18,"v":0.21},{"x":3,"y":18,"v":0.24},{"x":4,"y":18,"v":0.27},{"x":5,"y":18,"v":0.31},{"x":6,"y":18,"v":0.34},{"x":7,"y":18,"v":0.37},{"x":8,"y":18,"v":0.39},{"x":9,"y":18,"v":0.41},{"x":10,"y":18,"v":0.42},{"x":11,"y":18,"v":0.42},{"x":12,"y":18,"v":0.41},{"x":13,"y":18,"v":0.38},{"x":14,"y":18,"v":0.34},{"x":15,"y":18,"v":0.3},{"x":16,"y":18,"v":0.25},{"x":17,"y":18,"v":0.2},{"x":18,"y":18,"v":0.16},{"x":19,"y":18,"v":0.13}],
"g4":[
{"x":0,"y":0,"v":0.12},{"x":1,"y":0,"v":0.17},{"x":2,"y":0,"v":0.25},{"x":3,"y":0,"v":0.34},{"x":4,"y":0,"v":0.43},{"x":5,"y":0,"v":0.47},{"x":6,"y":0,"v":0.49},{"x":7,"y":0,"v":0.49},{"x":8,"y":0,"v":0.47},{"x":9,"y":0,"v":0.41},{"x":10,"y":0,"v":0.33},{"x":11,"y":0,"v":0.25},{"x":12,"y":0,"v":0.18},{"x":13,"y":0,"v":0.115},{"x":14,"y":0,"v":0.09},{"x":15,"y":0,"v":0.07},{"x":16,"y":0,"v":0.05},{"x":17,"y":0,"v":0.03},{"x":18,"y":0,"v":0.015},{"x":19,"y":0,"v":0.006},
{"x":0,"y":1,"v":0.125},{"x":1,"y":1,"v":0.18},{"x":2,"y":1,"v":0.27},{"x":3,"y":1,"v":0.36},{"x":4,"y":1,"v":0.45},{"x":5,"y":1,"v":0.49},{"x":6,"y":1,"v":0.51},{"x":7,"y":1,"v":0.51},{"x":8,"y":1,"v":0.49},{"x":9,"y":1,"v":0.43},{"x":10,"y":1,"v":0.35},{"x":11,"y":1,"v":0.27},{"x":12,"y":1,"v":0.19},{"x":13,"y":1,"v":0.125},{"x":14,"y":1,"v":0.1},{"x":15,"y":1,"v":0.075},{"x":16,"y":1,"v":0.05},{"x":17,"y":1,"v":0.03},{"x":18,"y":1,"v":0.015},{"x":19,"y":1,"v":0.006},
{"x":0,"y":2,"v":0.125},{"x":1,"y":2,"v":0.19},{"x":2,"y":2,"v":0.28},{"x":3,"y":2,"v":0.37},{"x":4,"y":2,"v":0.46},{"x":5,"y":2,"v":0.5},{"x":6,"y":2,"v":0.52},{"x":7,"y":2,"v":0.52},{"x":8,"y":2,"v":0.5},{"x":9,"y":2,"v":0.44},{"x":10,"y":2,"v":0.36},{"x":11,"y":2,"v":0.28},{"x":12,"y":2,"v":0.2},{"x":13,"y":2,"v":0.125},{"x":14,"y":2,"v":0.1},{"x":15,"y":2,"v":0.08},{"x":16,"y":2,"v":0.05},{"x":17,"y":2,"v":0.03},{"x":18,"y":2,"v":0.015},{"x":19,"y":2,"v":0.006},
{"x":0,"y":3,"v":0.12},{"x":1,"y":3,"v":0.19},{"x":2,"y":3,"v":0.27},{"x":3,"y":3,"v":0.37},{"x":4,"y":3,"v":0.46},{"x":5,"y":3,"v":0.5},{"x":6,"y":3,"v":0.52},{"x":7,"y":3,"v":0.52},{"x":8,"y":3,"v":0.49},{"x":9,"y":3,"v":0.44},{"x":10,"y":3,"v":0.36},{"x":11,"y":3,"v":0.28},{"x":12,"y":3,"v":0.2},{"x":13,"y":3,"v":0.125},{"x":14,"y":3,"v":0.1},{"x":15,"y":3,"v":0.08},{"x":16,"y":3,"v":0.055},{"x":17,"y":3,"v":0.03},{"x":18,"y":3,"v":0.015},{"x":19,"y":3,"v":0.006},
{"x":0,"y":4,"v":0.115},{"x":1,"y":4,"v":0.18},{"x":2,"y":4,"v":0.26},{"x":3,"y":4,"v":0.35},{"x":4,"y":4,"v":0.44},{"x":5,"y":4,"v":0.48},{"x":6,"y":4,"v":0.5},{"x":7,"y":4,"v":0.5},{"x":8,"y":4,"v":0.47},{"x":9,"y":4,"v":0.42},{"x":10,"y":4,"v":0.34},{"x":11,"y":4,"v":0.27},{"x":12,"y":4,"v":0.2},{"x":13,"y":4,"v":0.13},{"x":14,"y":4,"v":0.105},{"x":15,"y":4,"v":0.08},{"x":16,"y":4,"v":0.055},{"x":17,"y":4,"v":0.03},{"x":18,"y":4,"v":0.015},{"x":19,"y":4,"v":0.006},
{"x":0,"y":5,"v":0.115},{"x":1,"y":5,"v":0.14},{"x":2,"y":5,"v":0.15},{"x":3,"y":5,"v":0.15},{"x":4,"y":5,"v":0.135},{"x":5,"y":5,"v":0.115},{"x":6,"y":5,"v":0.09},{"x":7,"y":5,"v":0.44},{"x":8,"y":5,"v":0.38},{"x":9,"y":5,"v":0.31},{"x":10,"y":5,"v":0.26},{"x":11,"y":5,"v":0.22},{"x":12,"y":5,"v":0.19},{"x":13,"y":5,"v":0.16},{"x":14,"y":5,"v":0.12},{"x":15,"y":5,"v":0.1},{"x":16,"y":5,"v":0.08},{"x":17,"y":5,"v":0.06},{"x":18,"y":5,"v":0.04},{"x":19,"y":5,"v":0.03},
{"x":0,"y":6,"v":0.125},{"x":1,"y":6,"v":0.15},{"x":2,"y":6,"v":0.165},{"x":3,"y":6,"v":0.17},{"x":4,"y":6,"v":0.155},{"x":5,"y":6,"v":0.13},{"x":6,"y":6,"v":0.1},{"x":7,"y":6,"v":0.4},{"x":8,"y":6,"v":0.36},{"x":9,"y":6,"v":0.31},{"x":10,"y":6,"v":0.27},{"x":11,"y":6,"v":0.23},{"x":12,"y":6,"v":0.2},{"x":13,"y":6,"v":0.17},{"x":14,"y":6,"v":0.14},{"x":15,"y":6,"v":0.11},{"x":16,"y":6,"v":0.09},{"x":17,"y":6,"v":0.07},{"x":18,"y":6,"v":0.05},{"x":19,"y":6,"v":0.04},
{"x":0,"y":7,"v":0.135},{"x":1,"y":7,"v":0.16},{"x":2,"y":7,"v":0.18},{"x":3,"y":7,"v":0.18},{"x":4,"y":7,"v":0.17},{"x":5,"y":7,"v":0.15},{"x":6,"y":7,"v":0.125},{"x":7,"y":7,"v":0.38},{"x":8,"y":7,"v":0.35},{"x":9,"y":7,"v":0.31},{"x":10,"y":7,"v":0.28},{"x":11,"y":7,"v":0.25},{"x":12,"y":7,"v":0.22},{"x":13,"y":7,"v":0.19},{"x":14,"y":7,"v":0.16},{"x":15,"y":7,"v":0.13},{"x":16,"y":7,"v":0.105},{"x":17,"y":7,"v":0.085},{"x":18,"y":7,"v":0.065},{"x":19,"y":7,"v":0.05},
{"x":0,"y":8,"v":0.15},{"x":1,"y":8,"v":0.175},{"x":2,"y":8,"v":0.195},{"x":3,"y":8,"v":0.2},{"x":4,"y":8,"v":0.19},{"x":5,"y":8,"v":0.17},{"x":6,"y":8,"v":0.14},{"x":7,"y":8,"v":0.38},{"x":8,"y":8,"v":0.36},{"x":9,"y":8,"v":0.33},{"x":10,"y":8,"v":0.31},{"x":11,"y":8,"v":0.28},{"x":12,"y":8,"v":0.25},{"x":13,"y":8,"v":0.22},{"x":14,"y":8,"v":0.19},{"x":15,"y":8,"v":0.16},{"x":16,"y":8,"v":0.13},{"x":17,"y":8,"v":0.105},{"x":18,"y":8,"v":0.09},{"x":19,"y":8,"v":0.07},
{"x":0,"y":9,"v":0.16},{"x":1,"y":9,"v":0.195},{"x":2,"y":9,"v":0.22},{"x":3,"y":9,"v":0.23},{"x":4,"y":9,"v":0.225},{"x":5,"y":9,"v":0.2},{"x":6,"y":9,"v":0.16},{"x":7,"y":9,"v":0.43},{"x":8,"y":9,"v":0.42},{"x":9,"y":9,"v":0.41},{"x":10,"y":9,"v":0.4},{"x":11,"y":9,"v":0.38},{"x":12,"y":9,"v":0.34},{"x":13,"y":9,"v":0.3},{"x":14,"y":9,"v":0.26},{"x":15,"y":9,"v":0.22},{"x":16,"y":9,"v":0.18},{"x":17,"y":9,"v":0.14},{"x":18,"y":9,"v":0.11},{"x":19,"y":9,"v":0.095},
{"x":0,"y":10,"v":0.175},{"x":1,"y":10,"v":0.22},{"x":2,"y":10,"v":0.26},{"x":3,"y":10,"v":0.28},{"x":4,"y":10,"v":0.26},{"x":5,"y":10,"v":0.22},{"x":6,"y":10,"v":0.175},{"x":7,"y":10,"v":0.46},{"x":8,"y":10,"v":0.48},{"x":9,"y":10,"v":0.5},{"x":10,"y":10,"v":0.5},{"x":11,"y":10,"v":0.49},{"x":12,"y":10,"v":0.48},{"x":13,"y":10,"v":0.46},{"x":14,"y":10,"v":0.42},{"x":15,"y":10,"v":0.36},{"x":16,"y":10,"v":0.29},{"x":17,"y":10,"v":0.22},{"x":18,"y":10,"v":0.16},{"x":19,"y":10,"v":0.12},
{"x":0,"y":11,"v":0.19},{"x":1,"y":11,"v":0.25},{"x":2,"y":11,"v":0.3},{"x":3,"y":11,"v":0.33},{"x":4,"y":11,"v":0.3},{"x":5,"y":11,"v":0.25},{"x":6,"y":11,"v":0.19},{"x":7,"y":11,"v":0.5},{"x":8,"y":11,"v":0.55},{"x":9,"y":11,"v":0.6},{"x":10,"y":11,"v":0.62},{"x":11,"y":11,"v":0.63},{"x":12,"y":11,"v":0.62},{"x":13,"y":11,"v":0.58},{"x":14,"y":11,"v":0.52},{"x":15,"y":11,"v":0.45},{"x":16,"y":11,"v":0.36},{"x":17,"y":11,"v":0.28},{"x":18,"y":11,"v":0.2},{"x":19,"y":11,"v":0.14},
{"x":0,"y":12,"v":0.2},{"x":1,"y":12,"v":0.27},{"x":2,"y":12,"v":0.34},{"x":3,"y":12,"v":0.37},{"x":4,"y":12,"v":0.34},{"x":5,"y":12,"v":0.27},{"x":6,"y":12,"v":0.2},{"x":7,"y":12,"v":0.53},{"x":8,"y":12,"v":0.6},{"x":9,"y":12,"v":0.67},{"x":10,"y":12,"v":0.72},{"x":11,"y":12,"v":0.75},{"x":12,"y":12,"v":0.74},{"x":13,"y":12,"v":0.69},{"x":14,"y":12,"v":0.62},{"x":15,"y":12,"v":0.55},{"x":16,"y":12,"v":0.47},{"x":17,"y":12,"v":0.36},{"x":18,"y":12,"v":0.26},{"x":19,"y":12,"v":0.17},
{"x":0,"y":13,"v":0.21},{"x":1,"y":13,"v":0.3},{"x":2,"y":13,"v":0.37},{"x":3,"y":13,"v":0.4},{"x":4,"y":13,"v":0.37},{"x":5,"y":13,"v":0.28},{"x":6,"y":13,"v":0.2},{"x":7,"y":13,"v":0.55},{"x":8,"y":13,"v":0.64},{"x":9,"y":13,"v":0.74},{"x":10,"y":13,"v":0.82},{"x":11,"y":13,"v":0.86},{"x":12,"y":13,"v":0.86},{"x":13,"y":13,"v":0.8},{"x":14,"y":13,"v":0.72},{"x":15,"y":13,"v":0.64},{"x":16,"y":13,"v":0.55},{"x":17,"y":13,"v":0.42},{"x":18,"y":13,"v":0.29},{"x":19,"y":13,"v":0.19},
{"x":0,"y":14,"v":0.2},{"x":1,"y":14,"v":0.3},{"x":2,"y":14,"v":0.37},{"x":3,"y":14,"v":0.4},{"x":4,"y":14,"v":0.36},{"x":5,"y":14,"v":0.27},{"x":6,"y":14,"v":0.19},{"x":7,"y":14,"v":0.55},{"x":8,"y":14,"v":0.65},{"x":9,"y":14,"v":0.76},{"x":10,"y":14,"v":0.85},{"x":11,"y":14,"v":0.9},{"x":12,"y":14,"v":0.9},{"x":13,"y":14,"v":0.85},{"x":14,"y":14,"v":0.76},{"x":15,"y":14,"v":0.67},{"x":16,"y":14,"v":0.58},{"x":17,"y":14,"v":0.46},{"x":18,"y":14,"v":0.31},{"x":19,"y":14,"v":0.2},
{"x":0,"y":15,"v":0.19},{"x":1,"y":15,"v":0.27},{"x":2,"y":15,"v":0.34},{"x":3,"y":15,"v":0.36},{"x":4,"y":15,"v":0.33},{"x":5,"y":15,"v":0.25},{"x":6,"y":15,"v":0.18},{"x":7,"y":15,"v":0.52},{"x":8,"y":15,"v":0.62},{"x":9,"y":15,"v":0.74},{"x":10,"y":15,"v":0.82},{"x":11,"y":15,"v":0.88},{"x":12,"y":15,"v":0.86},{"x":13,"y":15,"v":0.8},{"x":14,"y":15,"v":0.73},{"x":15,"y":15,"v":0.65},{"x":16,"y":15,"v":0.56},{"x":17,"y":15,"v":0.46},{"x":18,"y":15,"v":0.32},{"x":19,"y":15,"v":0.21},
{"x":0,"y":16,"v":0.16},{"x":1,"y":16,"v":0.24},{"x":2,"y":16,"v":0.29},{"x":3,"y":16,"v":0.31},{"x":4,"y":16,"v":0.29},{"x":5,"y":16,"v":0.22},{"x":6,"y":16,"v":0.16},{"x":7,"y":16,"v":0.48},{"x":8,"y":16,"v":0.58},{"x":9,"y":16,"v":0.68},{"x":10,"y":16,"v":0.74},{"x":11,"y":16,"v":0.78},{"x":12,"y":16,"v":0.77},{"x":13,"y":16,"v":0.73},{"x":14,"y":16,"v":0.68},{"x":15,"y":16,"v":0.61},{"x":16,"y":16,"v":0.53},{"x":17,"y":16,"v":0.44},{"x":18,"y":16,"v":0.31},{"x":19,"y":16,"v":0.21},
{"x":0,"y":17,"v":0.14},{"x":1,"y":17,"v":0.2},{"x":2,"y":17,"v":0.25},{"x":3,"y":17,"v":0.27},{"x":4,"y":17,"v":0.25},{"x":5,"y":17,"v":0.19},{"x":6,"y":17,"v":0.14},{"x":7,"y":17,"v":0.4},{"x":8,"y":17,"v":0.5},{"x":9,"y":17,"v":0.57},{"x":10,"y":17,"v":0.62},{"x":11,"y":17,"v":0.64},{"x":12,"y":17,"v":0.65},{"x":13,"y":17,"v":0.62},{"x":14,"y":17,"v":0.58},{"x":15,"y":17,"v":0.53},{"x":16,"y":17,"v":0.47},{"x":17,"y":17,"v":0.37},{"x":18,"y":17,"v":0.28},{"x":19,"y":17,"v":0.2},
{"x":0,"y":18,"v":0.115},{"x":1,"y":18,"v":0.16},{"x":2,"y":18,"v":0.2},{"x":3,"y":18,"v":0.21},{"x":4,"y":18,"v":0.2},{"x":5,"y":18,"v":0.16},{"x":6,"y":18,"v":0.115},{"x":7,"y":18,"v":0.32},{"x":8,"y":18,"v":0.42},{"x":9,"y":18,"v":0.47},{"x":10,"y":18,"v":0.52},{"x":11,"y":18,"v":0.54},{"x":12,"y":18,"v":0.55},{"x":13,"y":18,"v":0.54},{"x":14,"y":18,"v":0.5},{"x":15,"y":18,"v":0.47},{"x":16,"y":18,"v":0.42},{"x":17,"y":18,"v":0.33},{"x":18,"y":18,"v":0.25},{"x":19,"y":18,"v":0.18}]
},
"vconcat":[
{"hconcat":[
{"spacing":21,"vconcat":[
{"width":951,"height":894,"encoding":{"x":{"field":"x","type":"quantitative","scale":{"domain":[-0.5,19.5],"nice":false,"zero":false},"axis":null},"y":{"field":"y","type":"quantitative","scale":{"domain":[18.5,-0.5],"nice":false,"zero":false},"axis":null}},"layer":[
{"data":{"name":"grid"},"mark":{"type":"rect"},"encoding":{"x2":{"field":"x2"},"y2":{"field":"y2"},"color":{"field":"v","type":"quantitative","legend":null,"scale":{"interpolate":"rgb","domain":[0,0.115,0.46,0.8,1.15],"range":["#ffffff","#8000ff","#b52800","#dd6a00","#ffff00"]}}}},
{"data":{"name":"walls"},"mark":{"type":"rect","color":"#a9a9a9"},"encoding":{"x2":{"field":"x2"},"y2":{"field":"y2"}}},
{"data":{"name":"people"},"mark":{"type":"point","shape":"circle","filled":true,"size":19044,"opacity":1,"color":"#ffa500"}}]},
{"width":951,"height":88,"encoding":{"x":{"field":"t","type":"quantitative"}},"layer":[
{"data":{"name":"bar"},"mark":{"type":"rect","color":{"gradient":"linear","x1":0,"y1":0,"x2":1,"y2":0,"stops":[{"offset":0,"color":"#ffffff"},{"offset":0.1,"color":"#8000ff"},{"offset":0.4,"color":"#b52800"},{"offset":0.696,"color":"#dd6a00"},{"offset":1,"color":"#ffff00"}]}},"encoding":{"x":{"field":"a","type":"quantitative","scale":{"domain":[-0.09994,1.2387],"nice":false,"zero":false},"axis":{"title":"Grid","values":[0,0.115,0.46,0.8,1.15],"labelAlign":{"condition":{"test":"datum.value==0","value":"right"},"value":"center"},"labelExpr":"datum.value==0?'0':datum.value==0.115?'0.11':format(datum.value,'.2f')"}},"x2":{"field":"b"},"y":{"field":"c","type":"quantitative","scale":{"domain":[1,0],"nice":false},"axis":null},"y2":{"field":"d"}}},
{"data":{"name":"ticks"},"mark":{"type":"rule","color":"black","strokeWidth":7},"encoding":{"x":{"field":"t","type":"quantitative"},"y":{"datum":0},"y2":{"datum":1}}}]}
]},
{"spacing":21,"vconcat":[
{"width":951,"height":894,"encoding":{"x":{"field":"x","type":"quantitative","scale":{"domain":[-0.5,19.5],"nice":false,"zero":false},"axis":null},"y":{"field":"y","type":"quantitative","scale":{"domain":[18.5,-0.5],"nice":false,"zero":false},"axis":null}},"layer":[
{"data":{"name":"voronoi"},"mark":{"type":"area","interpolate":"linear","opacity":1},"encoding":{"detail":{"field":"cell"},"y2":{"field":"y2"},"color":{"field":"v","type":"quantitative","legend":null,"scale":{"interpolate":"rgb","domain":[0,0.115,0.46,0.8,1.15],"range":["#ffffff","#8000ff","#b52800","#dd6a00","#ffff00"]}}}},
{"data":{"name":"walls"},"mark":{"type":"rect","color":"#a9a9a9"},"encoding":{"x2":{"field":"x2"},"y2":{"field":"y2"}}},
{"data":{"name":"people"},"mark":{"type":"point","shape":"circle","filled":true,"size":19044,"opacity":1,"color":"#ffa500"}}]},
{"width":951,"height":88,"encoding":{"x":{"field":"t","type":"quantitative"}},"layer":[
{"data":{"name":"bar"},"mark":{"type":"rect","color":{"gradient":"linear","x1":0,"y1":0,"x2":1,"y2":0,"stops":[{"offset":0,"color":"#ffffff"},{"offset":0.1,"color":"#8000ff"},{"offset":0.4,"color":"#b52800"},{"offset":0.696,"color":"#dd6a00"},{"offset":1,"color":"#ffff00"}]}},"encoding":{"x":{"field":"a","type":"quantitative","scale":{"domain":[-0.09994,1.2387],"nice":false,"zero":false},"axis":{"title":"Voronoi","values":[0,0.115,0.46,0.8,1.15],"labelAlign":{"condition":{"test":"datum.value==0","value":"right"},"value":"center"},"labelExpr":"datum.value==0?'0':datum.value==0.115?'0.11':format(datum.value,'.2f')"}},"x2":{"field":"b"},"y":{"field":"c","type":"quantitative","scale":{"domain":[1,0],"nice":false},"axis":null},"y2":{"field":"d"}}},
{"data":{"name":"ticks"},"mark":{"type":"rule","color":"black","strokeWidth":7},"encoding":{"x":{"field":"t","type":"quantitative"},"y":{"datum":0},"y2":{"datum":1}}}]}
]}
],"spacing":492},
{"hconcat":[
{"spacing":21,"vconcat":[
{"width":951,"height":894,"encoding":{"x":{"field":"x","type":"quantitative","scale":{"domain":[-0.5,19.5],"nice":false,"zero":false},"axis":null},"y":{"field":"y","type":"quantitative","scale":{"domain":[18.5,-0.5],"nice":false,"zero":false},"axis":null}},"layer":[
{"data":{"name":"g2"},"mark":{"type":"rect","width":48.2,"height":47.7},"encoding":{"color":{"field":"v","type":"quantitative","legend":null,"scale":{"interpolate":"rgb","domain":[0,0.115,0.46,0.8,1.15],"range":["#ffffff","#8000ff","#b52800","#dd6a00","#ffff00"]}}}},
{"data":{"name":"walls"},"mark":{"type":"rect","color":"#a9a9a9"},"encoding":{"x2":{"field":"x2"},"y2":{"field":"y2"}}},
{"data":{"name":"people"},"mark":{"type":"point","shape":"circle","filled":true,"size":19044,"opacity":1,"color":"#ffa500"}}]},
{"width":951,"height":88,"encoding":{"x":{"field":"t","type":"quantitative"}},"layer":[
{"data":{"name":"bar"},"mark":{"type":"rect","color":{"gradient":"linear","x1":0,"y1":0,"x2":1,"y2":0,"stops":[{"offset":0,"color":"#ffffff"},{"offset":0.1,"color":"#8000ff"},{"offset":0.4,"color":"#b52800"},{"offset":0.696,"color":"#dd6a00"},{"offset":1,"color":"#ffff00"}]}},"encoding":{"x":{"field":"a","type":"quantitative","scale":{"domain":[-0.09994,1.2387],"nice":false,"zero":false},"axis":{"title":"Gaussian","values":[0,0.115,0.46,0.8,1.15],"labelAlign":{"condition":{"test":"datum.value==0","value":"right"},"value":"center"},"labelExpr":"datum.value==0?'0':datum.value==0.115?'0.11':format(datum.value,'.2f')"}},"x2":{"field":"b"},"y":{"field":"c","type":"quantitative","scale":{"domain":[1,0],"nice":false},"axis":null},"y2":{"field":"d"}}},
{"data":{"name":"ticks"},"mark":{"type":"rule","color":"black","strokeWidth":7},"encoding":{"x":{"field":"t","type":"quantitative"},"y":{"datum":0},"y2":{"datum":1}}}]}
]},
{"spacing":21,"vconcat":[
{"width":951,"height":894,"encoding":{"x":{"field":"x","type":"quantitative","scale":{"domain":[-0.5,19.5],"nice":false,"zero":false},"axis":null},"y":{"field":"y","type":"quantitative","scale":{"domain":[18.5,-0.5],"nice":false,"zero":false},"axis":null}},"layer":[
{"data":{"name":"geodesic"},"mark":{"type":"area","interpolate":"linear","opacity":1},"encoding":{"detail":{"field":"cell"},"y2":{"field":"y2"},"color":{"field":"v","type":"quantitative","legend":null,"scale":{"interpolate":"rgb","domain":[0,0.115,0.46,0.8,1.15],"range":["#ffffff","#8000ff","#b52800","#dd6a00","#ffff00"]}}}},
{"data":{"name":"walls"},"mark":{"type":"rect","color":"#a9a9a9"},"encoding":{"x2":{"field":"x2"},"y2":{"field":"y2"}}},
{"data":{"name":"people"},"mark":{"type":"point","shape":"circle","filled":true,"size":19044,"opacity":1,"color":"#ffa500"}}]},
{"width":951,"height":88,"encoding":{"x":{"field":"t","type":"quantitative"}},"layer":[
{"data":{"name":"bar"},"mark":{"type":"rect","color":{"gradient":"linear","x1":0,"y1":0,"x2":1,"y2":0,"stops":[{"offset":0,"color":"#ffffff"},{"offset":0.1,"color":"#8000ff"},{"offset":0.4,"color":"#b52800"},{"offset":0.696,"color":"#dd6a00"},{"offset":1,"color":"#ffff00"}]}},"encoding":{"x":{"field":"a","type":"quantitative","scale":{"domain":[-0.09994,1.2387],"nice":false,"zero":false},"axis":{"title":"Voronoi (geodesic)","values":[0,0.115,0.46,0.8,1.15],"labelAlign":{"condition":{"test":"datum.value==0","value":"right"},"value":"center"},"labelExpr":"datum.value==0?'0':datum.value==0.115?'0.11':format(datum.value,'.2f')"}},"x2":{"field":"b"},"y":{"field":"c","type":"quantitative","scale":{"domain":[1,0],"nice":false},"axis":null},"y2":{"field":"d"}}},
{"data":{"name":"ticks"},"mark":{"type":"rule","color":"black","strokeWidth":7},"encoding":{"x":{"field":"t","type":"quantitative"},"y":{"datum":0},"y2":{"datum":1}}}]}
]}
],"spacing":492},
{"hconcat":[
{"spacing":21,"vconcat":[
{"width":951,"height":894,"encoding":{"x":{"field":"x","type":"quantitative","scale":{"domain":[-0.5,19.5],"nice":false,"zero":false},"axis":null},"y":{"field":"y","type":"quantitative","scale":{"domain":[18.5,-0.5],"nice":false,"zero":false},"axis":null}},"layer":[
{"data":{"name":"g3"},"mark":{"type":"rect","width":48.2,"height":47.7},"encoding":{"color":{"field":"v","type":"quantitative","legend":null,"scale":{"interpolate":"rgb","domain":[0,0.115,0.46,0.8,1.15],"range":["#ffffff","#8000ff","#b52800","#dd6a00","#ffff00"]}}}},
{"data":{"name":"walls"},"mark":{"type":"rect","color":"#a9a9a9"},"encoding":{"x2":{"field":"x2"},"y2":{"field":"y2"}}},
{"data":{"name":"people"},"mark":{"type":"point","shape":"circle","filled":true,"size":19044,"opacity":1,"color":"#ffa500"}}]},
{"width":951,"height":88,"encoding":{"x":{"field":"t","type":"quantitative"}},"layer":[
{"data":{"name":"bar"},"mark":{"type":"rect","color":{"gradient":"linear","x1":0,"y1":0,"x2":1,"y2":0,"stops":[{"offset":0,"color":"#ffffff"},{"offset":0.1,"color":"#8000ff"},{"offset":0.4,"color":"#b52800"},{"offset":0.696,"color":"#dd6a00"},{"offset":1,"color":"#ffff00"}]}},"encoding":{"x":{"field":"a","type":"quantitative","scale":{"domain":[-0.09994,1.2387],"nice":false,"zero":false},"axis":{"title":"Gaussian with obstacles","values":[0,0.115,0.46,0.8,1.15],"labelAlign":{"condition":{"test":"datum.value==0","value":"right"},"value":"center"},"labelExpr":"datum.value==0?'0':datum.value==0.115?'0.11':format(datum.value,'.2f')"}},"x2":{"field":"b"},"y":{"field":"c","type":"quantitative","scale":{"domain":[1,0],"nice":false},"axis":null},"y2":{"field":"d"}}},
{"data":{"name":"ticks"},"mark":{"type":"rule","color":"black","strokeWidth":7},"encoding":{"x":{"field":"t","type":"quantitative"},"y":{"datum":0},"y2":{"datum":1}}}]}
]},
{"spacing":21,"vconcat":[
{"width":951,"height":894,"encoding":{"x":{"field":"x","type":"quantitative","scale":{"domain":[-0.5,19.5],"nice":false,"zero":false},"axis":null},"y":{"field":"y","type":"quantitative","scale":{"domain":[18.5,-0.5],"nice":false,"zero":false},"axis":null}},"layer":[
{"data":{"name":"g4"},"mark":{"type":"rect","width":48.2,"height":47.7},"encoding":{"color":{"field":"v","type":"quantitative","legend":null,"scale":{"interpolate":"rgb","domain":[0,0.115,0.46,0.8,1.15],"range":["#ffffff","#8000ff","#b52800","#dd6a00","#ffff00"]}}}},
{"data":{"name":"walls"},"mark":{"type":"rect","color":"#a9a9a9"},"encoding":{"x2":{"field":"x2"},"y2":{"field":"y2"}}},
{"data":{"name":"people"},"mark":{"type":"point","shape":"circle","filled":true,"size":19044,"opacity":1,"color":"#ffa500"}}]},
{"width":951,"height":88,"encoding":{"x":{"field":"t","type":"quantitative"}},"layer":[
{"data":{"name":"bar"},"mark":{"type":"rect","color":{"gradient":"linear","x1":0,"y1":0,"x2":1,"y2":0,"stops":[{"offset":0,"color":"#ffffff"},{"offset":0.1,"color":"#8000ff"},{"offset":0.4,"color":"#b52800"},{"offset":0.696,"color":"#dd6a00"},{"offset":1,"color":"#ffff00"}]}},"encoding":{"x":{"field":"a","type":"quantitative","scale":{"domain":[-0.09994,1.2387],"nice":false,"zero":false},"axis":{"title":"Gaussian (geodesic)","values":[0,0.115,0.46,0.8,1.15],"labelAlign":{"condition":{"test":"datum.value==0","value":"right"},"value":"center"},"labelExpr":"datum.value==0?'0':datum.value==0.115?'0.11':format(datum.value,'.2f')"}},"x2":{"field":"b"},"y":{"field":"c","type":"quantitative","scale":{"domain":[1,0],"nice":false},"axis":null},"y2":{"field":"d"}}},
{"data":{"name":"ticks"},"mark":{"type":"rule","color":"black","strokeWidth":7},"encoding":{"x":{"field":"t","type":"quantitative"},"y":{"datum":0},"y2":{"datum":1}}}]}
]}
],"spacing":492}
],"spacing":47.5}
